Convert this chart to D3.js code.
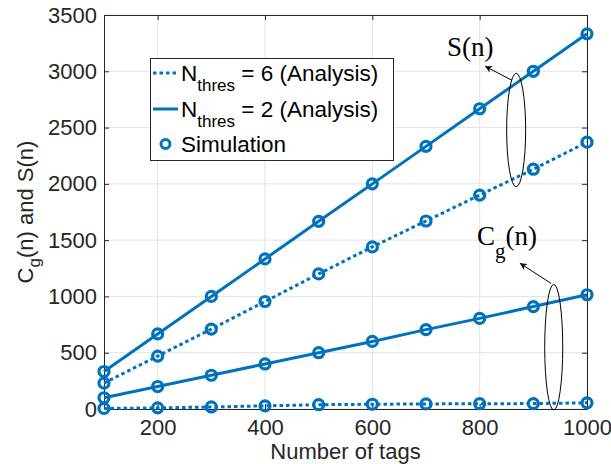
<!DOCTYPE html>
<html>
<head>
<meta charset="utf-8">
<script src="https://cdn.jsdelivr.net/npm/d3@7"></script>
<style>
  body { margin: 0; background: #fff; }
  svg { display: block; }
</style>
</head>
<body>
<div id="chart"></div>
<script>
// data
const tags = [100, 200, 300, 400, 500, 600, 700, 800, 900, 1000];
const sThres2 = [333, 667, 1000, 1333, 1667, 2000, 2333, 2667, 3000, 3333];
const sThres6 = [230, 470, 710, 955, 1200, 1440, 1670, 1900, 2130, 2370];
const cgThres2 = [100, 200, 300, 400, 500, 600, 705, 805, 910, 1015];
const cgThres6 = [5, 10, 18, 28, 38, 42, 45, 47, 48, 55];
const xTicks = [200, 400, 600, 800, 1000];
const yTicks = [0, 500, 1000, 1500, 2000, 2500, 3000, 3500];

const width = 611, height = 464;
const margin = { top: 15, right: 24, bottom: 55, left: 104 };
const blue = "#0072BD";
const axisColor = "#262626";
const sans = "'Liberation Sans', Arial, sans-serif";
const serif = "'Liberation Serif', 'Times New Roman', serif";

const svg = d3.select("#chart").append("svg")
  .attr("width", width).attr("height", height);

svg.append("rect").attr("width", width).attr("height", height).attr("fill", "#fff");

const x = d3.scaleLinear().domain([100, 1000]).range([margin.left, width - margin.right]);
const y = d3.scaleLinear().domain([0, 3500]).range([height - margin.bottom, margin.top]);

// grid
const grid = svg.append("g");
grid.selectAll(".gx").data(xTicks).join("line")
  .attr("x1", d => x(d)).attr("x2", d => x(d))
  .attr("y1", y(0)).attr("y2", y(3500))
  .attr("stroke", "#e3e3e3").attr("stroke-width", 1);
grid.selectAll(".gy").data(yTicks).join("line")
  .attr("x1", x(100)).attr("x2", x(1000))
  .attr("y1", d => y(d)).attr("y2", d => y(d))
  .attr("stroke", "#e3e3e3").attr("stroke-width", 1);

// axes (box with inward ticks)
const tickLen = 5;
const fmt = d3.format("d");
const axBottom = svg.append("g").attr("transform", `translate(0,${y(0)})`)
  .call(d3.axisBottom(x).tickValues(xTicks).tickFormat(fmt)
    .tickSizeInner(-tickLen).tickSizeOuter(0).tickPadding(10));
const axTop = svg.append("g").attr("transform", `translate(0,${y(3500)})`)
  .call(d3.axisTop(x).tickValues(xTicks).tickSizeInner(-tickLen).tickSizeOuter(0).tickFormat(""));
const axLeft = svg.append("g").attr("transform", `translate(${x(100)},0)`)
  .call(d3.axisLeft(y).tickValues(yTicks).tickFormat(fmt)
    .tickSizeInner(-tickLen).tickSizeOuter(0).tickPadding(7));
const axRight = svg.append("g").attr("transform", `translate(${x(1000)},0)`)
  .call(d3.axisRight(y).tickValues(yTicks).tickSizeInner(-tickLen).tickSizeOuter(0).tickFormat(""));

[axBottom, axTop, axLeft, axRight].forEach(a => {
  a.selectAll("path").attr("stroke", axisColor).attr("stroke-width", 1);
  a.selectAll("line").attr("stroke", axisColor).attr("stroke-width", 1);
  a.selectAll("text").attr("fill", axisColor)
    .style("font-family", sans).style("font-size", "22px");
});

// series
const series = [
  { values: sThres2, dash: null },
  { values: sThres6, dash: "3.5,3" },
  { values: cgThres2, dash: null },
  { values: cgThres6, dash: "3.5,3" },
];
const line = d3.line().x((d, i) => x(tags[i])).y(d => y(d));

const plot = svg.append("g");
series.forEach(s => {
  plot.append("path").datum(s.values)
    .attr("d", line)
    .attr("fill", "none")
    .attr("stroke", blue)
    .attr("stroke-width", 3)
    .attr("stroke-dasharray", s.dash);
});
series.forEach(s => {
  plot.append("g").selectAll("circle").data(s.values).join("circle")
    .attr("cx", (d, i) => x(tags[i]))
    .attr("cy", d => y(d))
    .attr("r", 5)
    .attr("fill", "none")
    .attr("stroke", blue)
    .attr("stroke-width", 3.2);
});

// axis labels
svg.append("text")
  .attr("x", (x(100) + x(1000)) / 2).attr("y", 459)
  .attr("text-anchor", "middle")
  .attr("fill", axisColor)
  .style("font-family", sans).style("font-size", "22px")
  .text("Number of tags");

const yLabel = svg.append("text")
  .attr("transform", `translate(33,${(y(0) + y(3500)) / 2}) rotate(-90)`)
  .attr("text-anchor", "middle")
  .attr("fill", axisColor)
  .style("font-family", sans).style("font-size", "22px");
yLabel.append("tspan").text("C");
yLabel.append("tspan").attr("dy", 7).style("font-size", "17px").text("g");
yLabel.append("tspan").attr("dy", -7).text("(n) and S(n)");

// legend
const legend = svg.append("g");
legend.append("rect")
  .attr("x", 150.5).attr("y", 58.5).attr("width", 243).attr("height", 102)
  .attr("fill", "#fff").attr("stroke", axisColor).attr("stroke-width", 1);

const legendRows = [
  { label: "= 6 (Analysis)", dash: "3.5,3", marker: false, sub: true },
  { label: "= 2 (Analysis)", dash: null, marker: false, sub: true },
  { label: "Simulation", dash: null, marker: true, sub: false },
];
const rowBase = [81, 117, 152];
legendRows.forEach((r, i) => {
  const g = legend.append("g");
  const cy = rowBase[i] - 8;
  if (r.marker) {
    g.append("circle").attr("cx", 165.5).attr("cy", cy)
      .attr("r", 4.5).attr("fill", "none").attr("stroke", blue).attr("stroke-width", 3);
  } else {
    g.append("line").attr("x1", 153).attr("x2", 178).attr("y1", cy).attr("y2", cy)
      .attr("stroke", blue).attr("stroke-width", 3).attr("stroke-dasharray", r.dash);
  }
  const t = g.append("text").attr("x", 181).attr("y", rowBase[i])
    .attr("fill", "#000")
    .style("font-family", sans).style("font-size", "22.5px");
  if (r.sub) {
    t.append("tspan").text("N");
    t.append("tspan").attr("dy", 10).style("font-size", "17px").text("thres");
    t.append("tspan").attr("dy", -10).text(" " + r.label);
  } else {
    t.text(r.label);
  }
});

// annotations (placed in data units)
const defs = svg.append("defs");
defs.append("marker").attr("id", "arrow")
  .attr("viewBox", "0 0 10 10").attr("refX", 10).attr("refY", 5)
  .attr("markerWidth", 9).attr("markerHeight", 7).attr("orient", "auto")
  .attr("markerUnits", "userSpaceOnUse")
  .append("path").attr("d", "M0,0 L10,5 L0,10 L3,5 Z").attr("fill", "#000");

const notes = [
  { cx: 868, cy: 2478, rx: 17.7, ry: 504, from: [860, 2920], to: [810, 3045] },
  { cx: 938, cy: 549, rx: 16.8, ry: 558, from: [933, 1116], to: [875, 1295] },
];
const ann = svg.append("g");
notes.forEach(n => {
  ann.append("ellipse")
    .attr("cx", x(n.cx)).attr("cy", y(n.cy))
    .attr("rx", x(n.cx + n.rx) - x(n.cx)).attr("ry", y(0) - y(n.ry))
    .attr("fill", "none").attr("stroke", "#000").attr("stroke-width", 1);
  ann.append("line")
    .attr("x1", x(n.from[0])).attr("y1", y(n.from[1]))
    .attr("x2", x(n.to[0])).attr("y2", y(n.to[1]))
    .attr("stroke", "#000").attr("stroke-width", 1)
    .attr("marker-end", "url(#arrow)");
});

ann.append("text")
  .attr("x", x(739)).attr("y", y(3134))
  .attr("fill", "#000")
  .style("font-family", serif).style("font-size", "27px")
  .text("S(n)");

const cgText = ann.append("text")
  .attr("x", x(795)).attr("y", y(1455))
  .attr("fill", "#000")
  .style("font-family", serif).style("font-size", "27px");
cgText.append("tspan").text("C");
cgText.append("tspan").attr("dy", 13).style("font-size", "21px").text("g");
cgText.append("tspan").attr("dy", -13).text("(n)");
</script>
</body>
</html>
